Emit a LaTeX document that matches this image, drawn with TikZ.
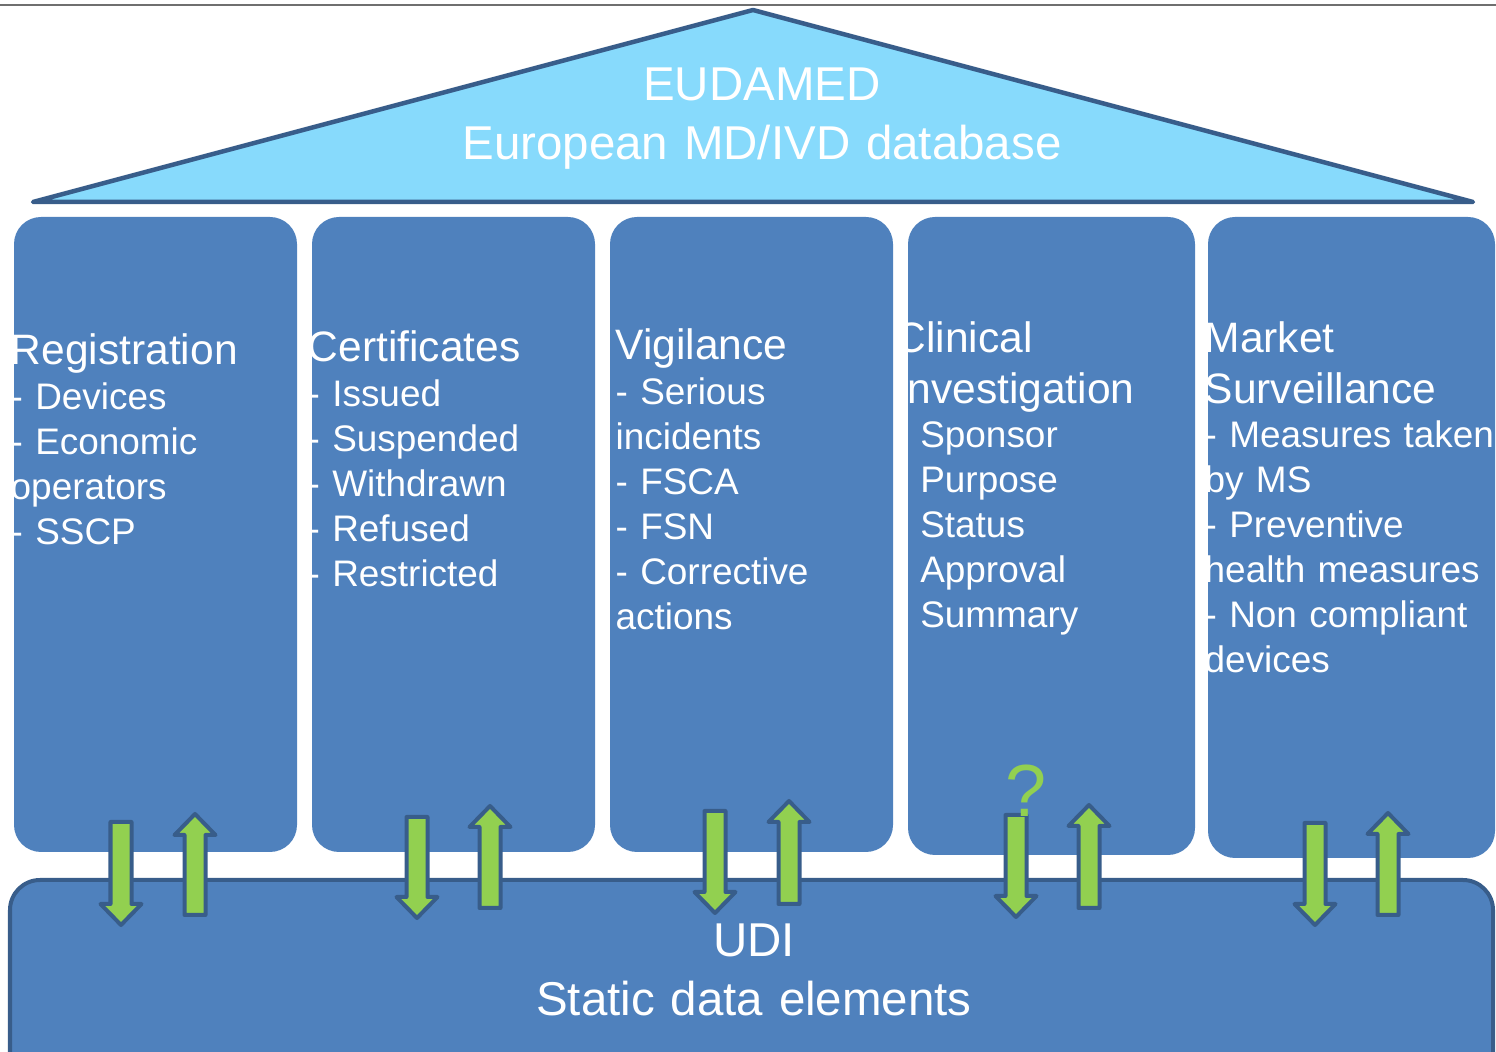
\documentclass[tikz,border=0pt]{standalone}
\usepackage{fontspec}
\setmainfont{Liberation Sans}
\usepackage{tikz}

\definecolor{roofblue}{HTML}{87DAFC}
\definecolor{pillarblue}{HTML}{4F81BD}
\definecolor{edgeblue}{HTML}{385D8A}
\definecolor{arrowgreen}{HTML}{92D050}
\definecolor{rulegray}{HTML}{6F6F6F}

\tikzset{
  rule/.style={draw=rulegray, line width=0.02cm},
  roof/.style={fill=roofblue, draw=edgeblue, line width=0.045cm, line join=round},
  pillar/.style={fill=pillarblue, rounded corners=0.27cm},
  base/.style={fill=pillarblue, draw=edgeblue, line width=0.04cm, rounded corners=0.3cm},
  pillartext/.style={anchor=base west, inner sep=0pt, text width=3.2cm, align=left,
    text=white, font=\fontsize{10.5}{12.75}\selectfont},
  bigtext/.style={anchor=base, inner sep=0pt, text width=8cm, align=center,
    text=white, font=\fontsize{13.5}{16.5}\selectfont},
  pipe/.style={fill=arrowgreen, draw=edgeblue, line width=0.04cm, line join=round}
}

\newcommand\headline[1]{{\fontsize{12.1}{12.75}\selectfont #1}}
% block arrows: x, start, tip
\newcommand\pipedown[3]{\draw[pipe] (#1-10.5,#2) -- (#1+10.5,#2) -- (#1+10.5,#3-21) -- (#1+20.5,#3-21) -- (#1,#3) -- (#1-20.5,#3-21) -- (#1-10.5,#3-21) -- cycle;}
\newcommand\pipeup[3]{\draw[pipe] (#1-10.5,#2) -- (#1+10.5,#2) -- (#1+10.5,#3+21) -- (#1+20.5,#3+21) -- (#1,#3) -- (#1-20.5,#3+21) -- (#1-10.5,#3+21) -- cycle;}

\begin{document}
\begin{tikzpicture}[x=0.01cm, y=-0.01cm]

    \useasboundingbox (0,0) rectangle (1496,1052);
    \clip (0,0) rectangle (1496,1052);

    \draw[rule] (0,5) -- (1496,5);

    % roof
    \draw[roof] (33,202) -- (753,10) -- (1473,202) -- cycle;
    \node[bigtext] (eudamed) at (762,101) {EUDAMED\\European MD/IVD database};

    % pillars
    \begin{scope}
      \fill[pillar] (14,217) rectangle (297,852);
      \clip[rounded corners=0.27cm] (14,217) rectangle (297,852);
      \node[pillartext] (registration) at (10,365) {\headline{Registration}\\- Devices\\- Economic\\operators\\- SSCP};
    \end{scope}
    \begin{scope}
      \fill[pillar] (312,217) rectangle (595,852);
      \clip[rounded corners=0.27cm] (312,217) rectangle (595,852);
      \node[pillartext] (certificates) at (307,362) {\headline{Certificates}\\- Issued\\- Suspended\\- Withdrawn\\- Refused\\- Restricted};
    \end{scope}
    \begin{scope}
      \fill[pillar] (610,217) rectangle (893,852);
      \clip[rounded corners=0.27cm] (610,217) rectangle (893,852);
      \node[pillartext] (vigilance) at (615,360) {\headline{Vigilance}\\- Serious\\incidents\\- FSCA\\- FSN\\- Corrective\\actions};
    \end{scope}
    \begin{scope}
      \fill[pillar] (908,217) rectangle (1195,855);
      \clip[rounded corners=0.27cm] (908,217) rectangle (1195,855);
      \node[pillartext] (clinical) at (895,353) {\headline{Clinical}\\[1.5pt]\headline{Investigation}\\- Sponsor\\- Purpose\\- Status\\- Approval\\- Summary};
    \end{scope}
    \begin{scope}
      \fill[pillar] (1208,217) rectangle (1495,858);
      \clip[rounded corners=0.27cm] (1208,217) rectangle (1495,858);
      \node[pillartext] (market) at (1204,353) {\headline{Market}\\[1.5pt]\headline{Surveillance}\\- Measures taken\\by MS\\- Preventive\\health measures\\- Non compliant\\devices};
    \end{scope}

    % base
    \draw[base] (10,880) rectangle (1493,1100);
    \node[bigtext] (udi) at (754,957) {UDI\\Static data elements};

    % exchange arrows
    \pipedown{121}{822}{925}
    \pipeup{195}{915}{814}
    \pipedown{417}{817}{918}
    \pipeup{490}{908}{806}
    \pipedown{715}{811}{913}
    \pipeup{789}{904}{801}
    \pipedown{1016}{815}{917}
    \pipeup{1089}{908}{805}
    \pipedown{1315}{823}{925}
    \pipeup{1388}{915}{813}

    \node[anchor=base, inner sep=0pt, text=arrowgreen, font=\fontsize{21}{21}\selectfont] (unsure) at (1026,817) {?};

\end{tikzpicture}
\end{document}
